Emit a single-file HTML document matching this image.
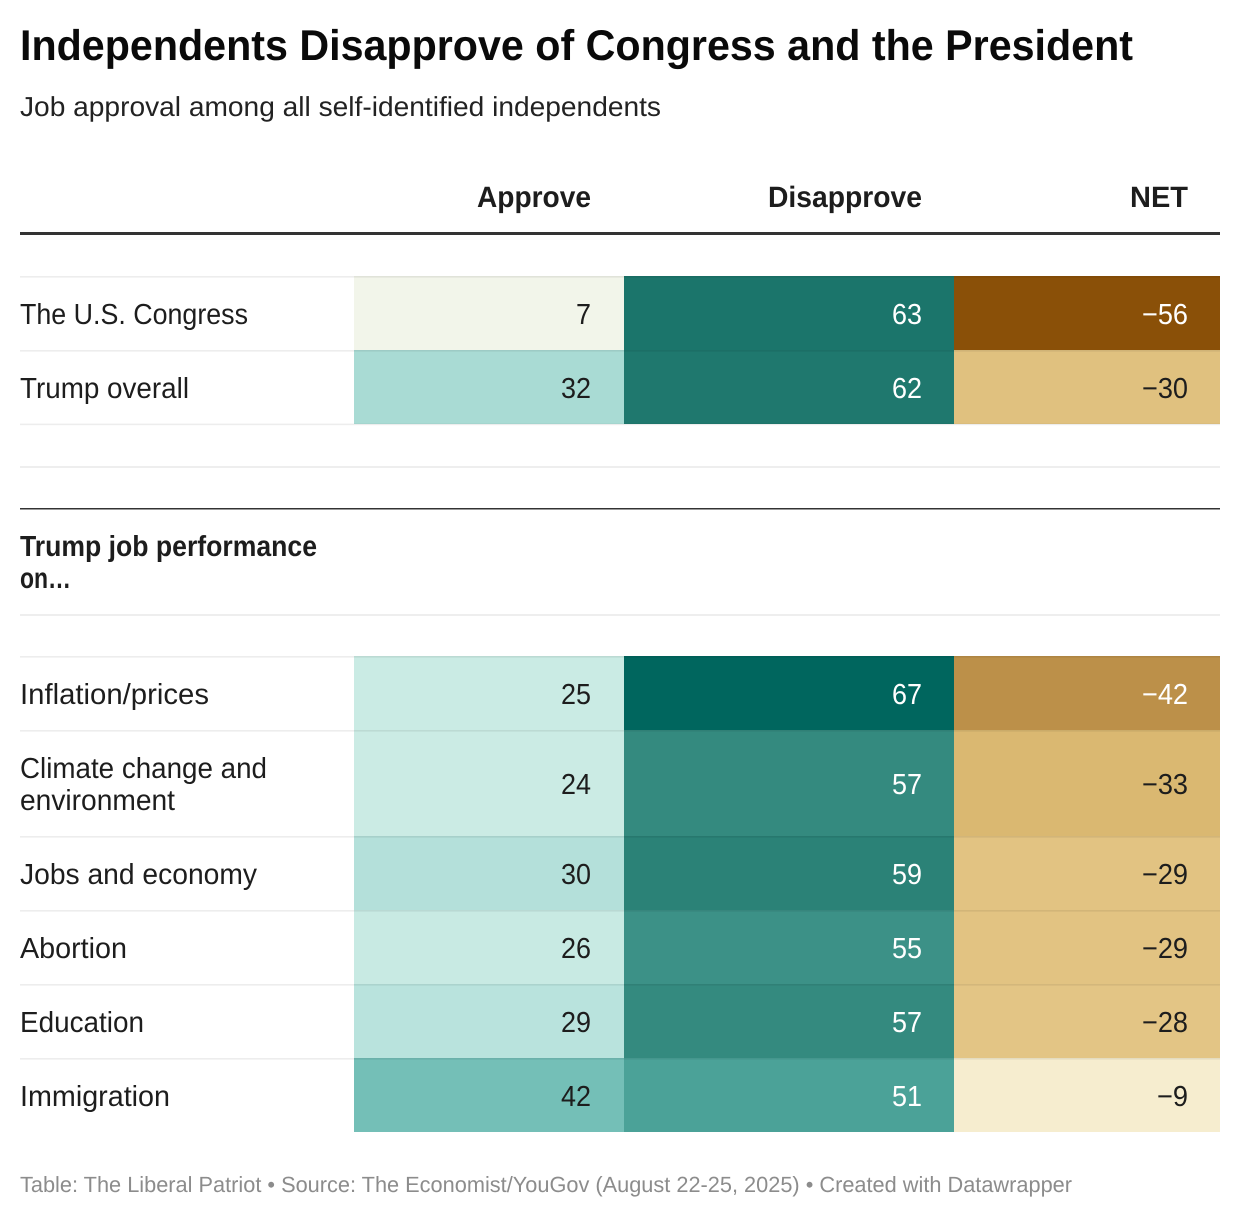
<!DOCTYPE html>
<html lang="en">
<head>
<meta charset="utf-8">
<title>Independents Disapprove of Congress and the President</title>
<style>
  html, body { margin: 0; padding: 0; background: #fff; }
  svg { display: block; font-family: "Liberation Sans", Arial, sans-serif; }
  text { text-rendering: geometricPrecision; }
</style>
</head>
<body>
<svg id="chart" xmlns="http://www.w3.org/2000/svg" width="1240" height="1218" viewBox="0 0 1240 1218">
  <rect x="0" y="0" width="1240" height="1218" fill="#ffffff"/>
  <text x="20" y="60" font-size="43" font-weight="700" fill="#0a0a0a" textLength="1113" lengthAdjust="spacingAndGlyphs">Independents Disapprove of Congress and the President</text>
  <text x="20" y="116" font-size="27.5" fill="#222222" textLength="641" lengthAdjust="spacingAndGlyphs">Job approval among all self-identified independents</text>
  <text x="591" y="207" font-size="29.5" font-weight="700" fill="#1d1d1d" text-anchor="end" textLength="114" lengthAdjust="spacingAndGlyphs">Approve</text>
  <text x="922" y="207" font-size="29.5" font-weight="700" fill="#1d1d1d" text-anchor="end" textLength="154" lengthAdjust="spacingAndGlyphs">Disapprove</text>
  <text x="1188" y="207" font-size="29.5" font-weight="700" fill="#1d1d1d" text-anchor="end" textLength="58" lengthAdjust="spacingAndGlyphs">NET</text>
  <rect x="20" y="232" width="1200" height="3" fill="#333333"/>
  <rect x="20" y="466" width="1200" height="2" fill="#eeeeee"/>
  <rect x="20" y="508" width="1200" height="1.5" fill="#333333"/>
  <text x="20" y="556" font-size="29" font-weight="700" fill="#1d1d1d" textLength="297" lengthAdjust="spacingAndGlyphs">Trump job performance</text>
  <text x="20" y="588" font-size="29" font-weight="700" fill="#1d1d1d" textLength="51" lengthAdjust="spacingAndGlyphs">on…</text>
  <rect x="20" y="614" width="1200" height="2" fill="#eeeeee"/>
  <g id="cells"></g>
  <g id="rules"></g>
  <g id="labels"></g>
  <g id="values"></g>
  <text x="20" y="1192" font-size="22" fill="#8c8c8c" textLength="1052" lengthAdjust="spacingAndGlyphs">Table: The Liberal Patriot • Source: The Economist/YouGov (August 22-25, 2025) • Created with Datawrapper</text>
</svg>
<script>
const rowLabels = ['The U.S. Congress', 'Trump overall', 'Inflation/prices', 'Climate change and|environment', 'Jobs and economy', 'Abortion', 'Education', 'Immigration'];
const approveValues = [7, 32, 25, 24, 30, 26, 29, 42];
const disapproveValues = [63, 62, 67, 57, 59, 55, 57, 51];
const netValues = [-56, -30, -42, -33, -29, -29, -28, -9];

const NS = 'http://www.w3.org/2000/svg';
const labelWidths = {
  'The U.S. Congress': 228, 'Trump overall': 169, 'Inflation/prices': 189,
  'Climate change and': 247, 'environment': 155, 'Jobs and economy': 237,
  'Abortion': 107, 'Education': 124, 'Immigration': 150
};
const shareStops = [[7, '#f2f5ea'], [24, '#cbebe4'], [26, '#c8eae3'], [29, '#b9e3dd'], [32, '#a9dbd4'], [42, '#74bfb7'], [51, '#4ba298'], [55, '#3c9187'], [57, '#348a7f'], [59, '#2b8277'], [63, '#1b756b'], [67, '#00665e']];
const netStops = [[-56, '#8a5008'], [-42, '#bc9049'], [-33, '#dab871'], [-30, '#e0c17f'], [-28, '#e3c585'], [-9, '#f6edcf']];
const columns = [
  { key: 'approve', values: approveValues, stops: shareStops, left: 354, right: 624, textX: 591 },
  { key: 'disapprove', values: disapproveValues, stops: shareStops, left: 624, right: 954, textX: 922 },
  { key: 'net', values: netValues, stops: netStops, left: 954, right: 1220, textX: 1188 }
];

function hexToRgb(h) {
  return [1, 3, 5].map(function (i) { return parseInt(h.slice(i, i + 2), 16); });
}
function colorScale(stops, v) {
  if (v <= stops[0][0]) return stops[0][1];
  for (let i = 1; i < stops.length; i++) {
    if (v <= stops[i][0]) {
      const t = (v - stops[i - 1][0]) / (stops[i][0] - stops[i - 1][0]);
      const a = hexToRgb(stops[i - 1][1]);
      const b = hexToRgb(stops[i][1]);
      return 'rgb(' + a.map(function (c, k) { return Math.round(c + (b[k] - c) * t); }).join(',') + ')';
    }
  }
  return stops[stops.length - 1][1];
}
function isDark(v) {
  return v >= 50 || v <= -40;
}
function formatValue(v) {
  return v < 0 ? '\u2212' + Math.abs(v) : String(v);
}
function valueWidth(v) {
  return String(Math.abs(v)).length * 15 + (v < 0 ? 16 : 0);
}
function slug(s) {
  return s.toLowerCase().replace(/[^a-z0-9]+/g, '-').replace(/^-|-$/g, '');
}
function addRule(y) {
  const rule = document.createElementNS(NS, 'rect');
  
  
  rule.setAttribute('x', 20);
  rule.setAttribute('y', y);
  rule.setAttribute('width', 1200);
  rule.setAttribute('height', 1.6);
  rule.setAttribute('fill', 'rgba(0,0,0,0.07)');
  document.getElementById('rules').appendChild(rule);
}

const lineStep = 32;
const baseRowHeight = 74;
let y = 276;
rowLabels.forEach(function (label, i) {
  if (i === 2) {
    addRule(y - 0.4);
    y = 656;
  }
  const lines = label.split('|');
  const h = baseRowHeight + (lines.length - 1) * lineStep;
  const centre = y + h / 2;
  const name = slug(lines.join(' '));

  lines.forEach(function (line, k) {
    const t = document.createElementNS(NS, 'text');
    
    
    t.setAttribute('x', 20);
    t.setAttribute('y', centre + 11 - (lines.length - 1) * lineStep / 2 + k * lineStep);
    t.setAttribute('font-size', 29);
    t.setAttribute('fill', '#1d1d1d');
    t.setAttribute('textLength', labelWidths[line]);
    t.setAttribute('lengthAdjust', 'spacingAndGlyphs');
    t.textContent = line;
    document.getElementById('labels').appendChild(t);
  });

  columns.forEach(function (col) {
    const v = col.values[i];
    const cell = document.createElementNS(NS, 'rect');
    
    
    cell.setAttribute('x', col.left);
    cell.setAttribute('y', y);
    cell.setAttribute('width', col.right - col.left);
    cell.setAttribute('height', h);
    cell.setAttribute('fill', colorScale(col.stops, v));
    document.getElementById('cells').appendChild(cell);

    const t = document.createElementNS(NS, 'text');
    
    
    t.setAttribute('x', col.textX);
    t.setAttribute('y', centre + 11);
    t.setAttribute('font-size', 29);
    t.setAttribute('text-anchor', 'end');
    t.setAttribute('fill', isDark(v) ? '#ffffff' : '#1d1d1d');
    t.setAttribute('textLength', valueWidth(v));
    t.setAttribute('lengthAdjust', 'spacingAndGlyphs');
    t.textContent = formatValue(v);
    document.getElementById('values').appendChild(t);
  });

  addRule(y);
  y += h;
});
</script>
</body>
</html>
